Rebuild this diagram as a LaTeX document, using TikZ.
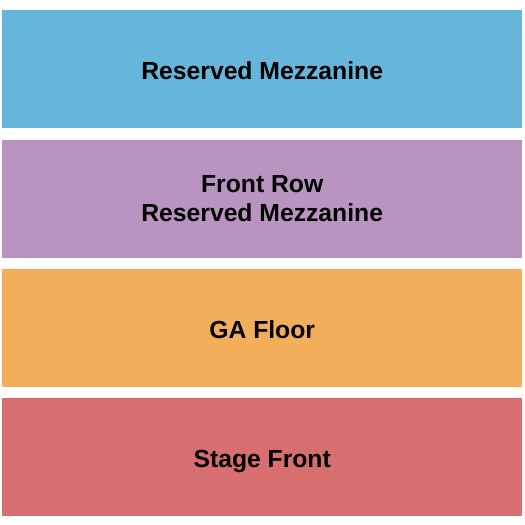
\documentclass[tikz,border=0pt]{standalone}
\usepackage{fontspec}
\setmainfont{Liberation Sans}
\usepackage{tikz}
\usetikzlibrary{positioning}
\usepackage{xcolor}
\definecolor{mezzblue}{RGB}{102,181,219}
\definecolor{rowpurple}{RGB}{185,148,193}
\definecolor{floororange}{RGB}{243,174,92}
\definecolor{stagered}{RGB}{215,111,112}

\begin{document}
\begin{tikzpicture}[node distance=11bp, section/.style={minimum width=520bp, minimum height=118bp, inner sep=0pt, align=center, text=black, font=\bfseries\fontsize{24.8}{30}\selectfont}, oneline/.style={text height=25bp, text depth=4.2bp}]
\useasboundingbox (0,0) rectangle (525bp,-525bp);
\node[section, oneline, fill=mezzblue, anchor=north west] (mezzanine) at (2bp,-10bp) {Reserved Mezzanine};
\node[section, fill=rowpurple, below=of mezzanine] (front-row) {Front Row\\Reserved Mezzanine};
\node[section, oneline, fill=floororange, below=of front-row] (ga-floor) {GA Floor};
\node[section, oneline, fill=stagered, below=of ga-floor] (stage-front) {Stage Front};
\end{tikzpicture}
\end{document}
